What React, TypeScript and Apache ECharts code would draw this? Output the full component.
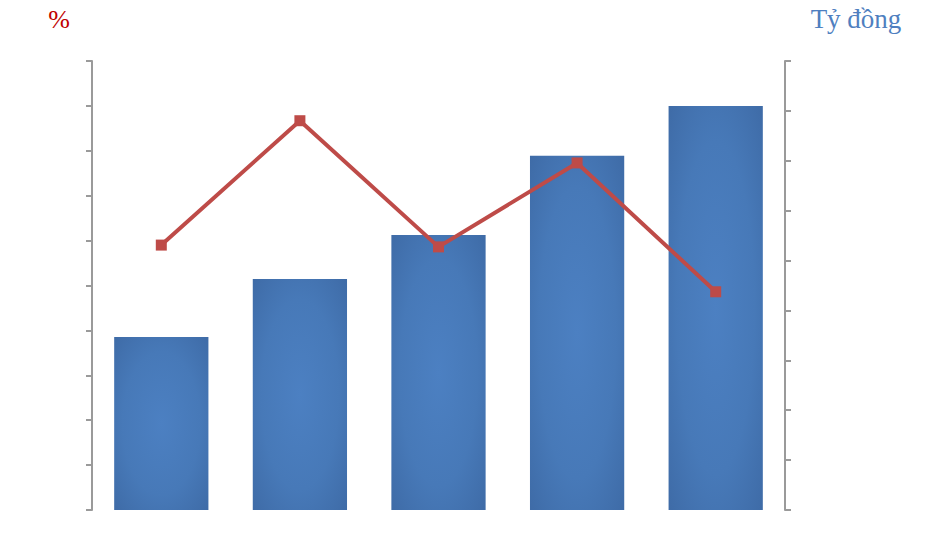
import { useEffect, useRef } from 'react';
import * as echarts from 'echarts';

// ── Data (axes carry no labels) ──
const categories = ['1', '2', '3', '4', '5'];
const barValues = [347, 463, 551, 710, 810]; // Tỷ đồng, right axis 0–900
const lineValues = [5.9, 8.67, 5.86, 7.73, 4.86]; // %, left axis 0–10

const BAR_EDGE = '#3d69a4';
const BAR_MID = '#4c80c2';
const LINE_COLOR = '#be4b48';
const AXIS_COLOR = '#9a9a9a';
const SERIF = '"Liberation Serif", "DejaVu Serif", serif';

export default function App() {
  const ref = useRef<HTMLDivElement>(null);

  useEffect(() => {
    document.body.style.margin = '0';
    if (!ref.current) return;
    const chart = echarts.init(ref.current, undefined, { renderer: 'svg' });

    const barFill = new echarts.graphic.RadialGradient(0.5, 0.5, 0.75, [
      { offset: 0, color: BAR_MID },
      { offset: 0.55, color: '#4779b8' },
      { offset: 1, color: BAR_EDGE },
    ]);

    const yAxisBase = {
      type: 'value',
      min: 0,
      axisLine: { show: true, lineStyle: { color: AXIS_COLOR, width: 2 } },
      axisTick: { show: true, length: 6, lineStyle: { color: AXIS_COLOR, width: 2 } },
      axisLabel: { show: false },
      splitLine: { show: false },
    };

    chart.setOption({
      animation: false,
      backgroundColor: '#ffffff',
      grid: { left: 92, right: 144, top: 61, bottom: 25 },
      xAxis: {
        type: 'category',
        data: categories,
        axisLine: { show: false },
        axisTick: { show: false },
        axisLabel: { show: false },
        splitLine: { show: false },
      },
      yAxis: [
        { ...yAxisBase, position: 'left', max: 10, interval: 1 },
        { ...yAxisBase, position: 'right', max: 900, interval: 100 },
      ],
      graphic: [
        {
          type: 'text',
          x: 59,
          y: 19,
          style: {
            text: '%',
            fill: '#c00000',
            font: `26px ${SERIF}`,
            textAlign: 'center',
            textVerticalAlign: 'middle',
          },
        },
        {
          type: 'text',
          x: 856,
          y: 19,
          style: {
            text: 'Tỷ đồng',
            fill: '#4f7fc0',
            font: `27px ${SERIF}`,
            textAlign: 'center',
            textVerticalAlign: 'middle',
          },
        },
      ],
      series: [
        {
          name: 'Tỷ đồng',
          type: 'bar',
          yAxisIndex: 1,
          data: barValues,
          barWidth: '68%',
          itemStyle: { color: barFill },
        },
        {
          name: '%',
          type: 'line',
          yAxisIndex: 0,
          data: lineValues,
          symbol: 'rect',
          symbolSize: 11,
          lineStyle: { color: LINE_COLOR, width: 4 },
          itemStyle: { color: LINE_COLOR },
        },
      ],
    });

    return () => chart.dispose();
  }, []);

  return <div ref={ref} style={{ width: 929, height: 535 }} />;
}
